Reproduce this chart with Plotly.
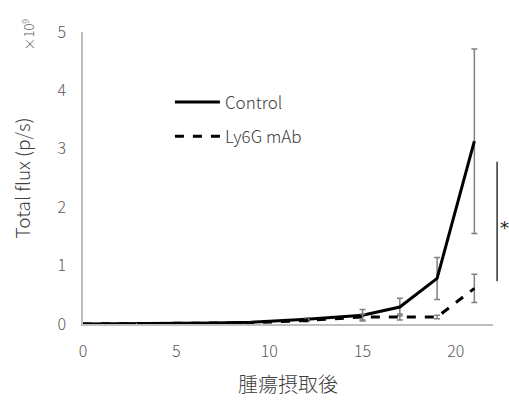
import plotly.graph_objects as go

days = [0, 3, 5, 7, 9, 12, 15, 17, 19, 21]
control = [0.0, 0.005, 0.01, 0.015, 0.03, 0.08, 0.15, 0.29, 0.78, 3.13]
control_err = [0, 0, 0, 0, 0.01, 0.02, 0.10, 0.15, 0.36, 1.58]
ly6g = [0.0, 0.005, 0.01, 0.015, 0.02, 0.06, 0.12, 0.12, 0.12, 0.61]
ly6g_err = [0, 0, 0, 0, 0.01, 0.02, 0.05, 0.05, 0.03, 0.24]

FONT = "Noto Sans CJK JP"
GRAY = "#595959"

fig = go.Figure()
fig.add_trace(go.Scatter(
    x=days, y=control, name="Control", mode="lines", legendgroup="a",
    line=dict(color="black", width=3),
    error_y=dict(type="data", array=control_err, color="#808080", thickness=1.5, width=3),
))
fig.add_trace(go.Scatter(
    x=days, y=ly6g, name="Ly6G mAb", mode="lines", legendgroup="b",
    line=dict(color="black", width=3, dash="dash"),
    error_y=dict(type="data", array=ly6g_err, color="#808080", thickness=1.5, width=3),
))

# significance bracket
fig.add_shape(type="line", xref="paper", yref="y", x0=1.01, x1=1.01, y0=0.73, y1=2.78,
              line=dict(color="#333333", width=1.5))
fig.add_annotation(xref="paper", yref="y", x=1.027, y=1.66, text="*", showarrow=False,
                   font=dict(family="DejaVu Sans", size=18, color="#222222", weight=400), xanchor="center")
fig.add_annotation(xref="paper", yref="paper", x=-0.135, y=0.99, text="×10<sup>9</sup>",
                   showarrow=False, textangle=-90, font=dict(family=FONT, size=13, color="#595959", weight=300),
                   xanchor="center", yanchor="middle")

fig.update_layout(
    width=509, height=403,
    margin=dict(l=83, r=16, t=32, b=79),
    paper_bgcolor="white", plot_bgcolor="white",
    font=dict(family=FONT, color=GRAY, weight=300),
    showlegend=True,
    legend=dict(x=0.212, y=0.82, xanchor="left", yanchor="top", bgcolor="rgba(0,0,0,0)",
                font=dict(family=FONT, size=17, color="#404040", weight=300), itemwidth=45,
                traceorder="grouped", tracegroupgap=9),
    xaxis=dict(range=[0, 22], tickvals=[0, 5, 10, 15, 20], showgrid=False, zeroline=False,
               showline=True, linecolor="#BFBFBF", linewidth=1.5, ticks="", automargin=False,
               ticklabelstandoff=12,
               tickfont=dict(family=FONT, size=16, color=GRAY, weight=300),
               title=dict(text="腫瘍摂取後", font=dict(family=FONT, size=20, color="#404040", weight=300), standoff=17)),
    yaxis=dict(range=[0, 5], tickvals=[0, 1, 2, 3, 4, 5], showgrid=False, zeroline=False,
               showline=True, linecolor="#BFBFBF", linewidth=1.5, ticks="", automargin=False,
               ticklabelstandoff=12,
               tickfont=dict(family=FONT, size=16, color=GRAY, weight=300),
               title=dict(text="Total flux (p/s)", font=dict(family=FONT, size=19, color="#404040", weight=300), standoff=22)),
)

fig.write_html("out.html", config={"displayModeBar": False},
               post_script="document.body.style.margin='0';")
